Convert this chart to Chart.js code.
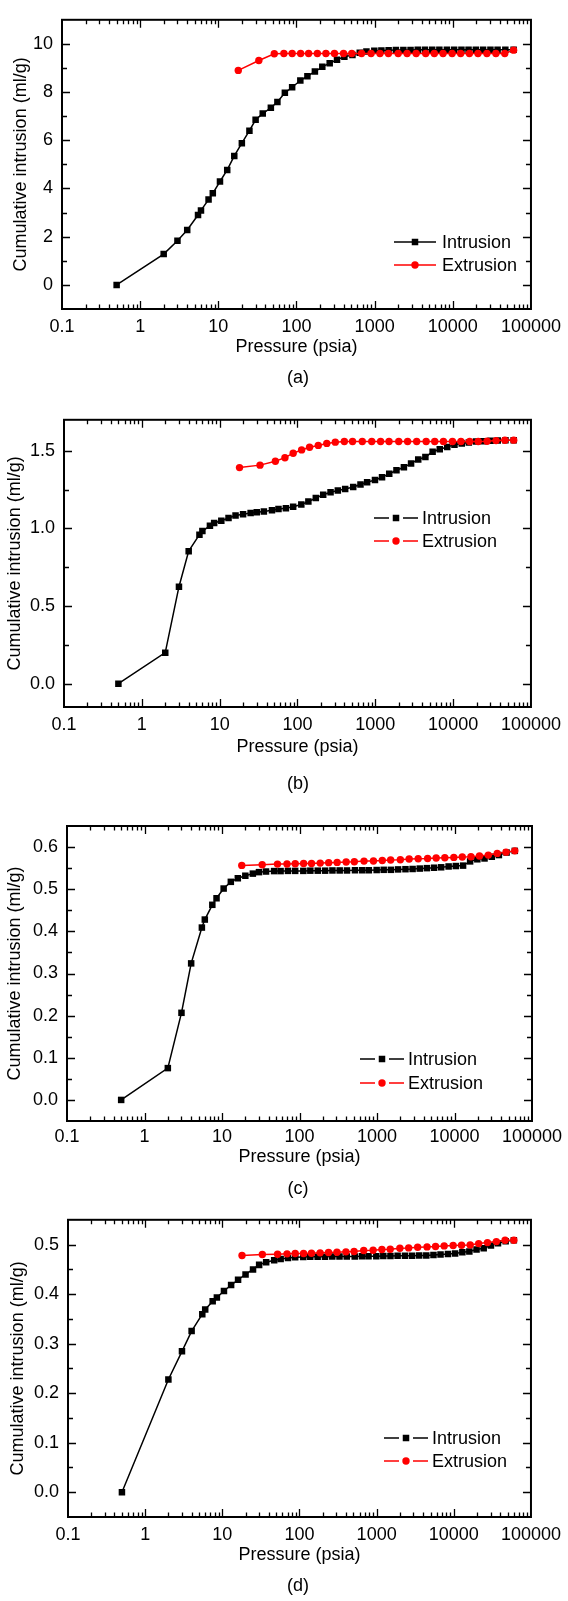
<!DOCTYPE html>
<html><head><meta charset="utf-8">
<script src="https://cdn.jsdelivr.net/npm/chart.js@4.4.1/dist/chart.umd.min.js"></script>
<style>
html,body{margin:0;padding:0;background:#fff;}
body{width:568px;height:1601px;position:relative;overflow:hidden;font-family:"Liberation Sans",Arial,sans-serif;}
.box{position:absolute;left:0;width:568px;}
.lab{position:absolute;font-size:18px;line-height:20px;transform:translate(-50%,-50%);color:#000;white-space:nowrap;}
</style></head><body>
<div class="box" style="top:0;height:400px"><canvas id="ca" width="568" height="400"></canvas></div>
<div class="box" style="top:400px;height:400px"><canvas id="cb" width="568" height="400"></canvas></div>
<div class="box" style="top:800px;height:400px"><canvas id="cc" width="568" height="400"></canvas></div>
<div class="box" style="top:1200px;height:401px"><canvas id="cd" width="568" height="401"></canvas></div>
<div class="lab" style="left:298px;top:377px">(a)</div>
<div class="lab" style="left:298px;top:783px">(b)</div>
<div class="lab" style="left:298px;top:1188px">(c)</div>
<div class="lab" style="left:298px;top:1585px">(d)</div>
<script>
const intrusionPressure = [0.5, 2, 3, 4, 5.5, 6, 7.5, 8.5, 10.5, 13, 16, 20, 25, 30, 37, 47, 57, 71, 88, 112, 138, 172, 214, 266, 330, 410, 520, 645, 785, 990, 1220, 1510, 1870, 2330, 2880, 3560, 4400, 5450, 6730, 8400, 10400, 12900, 15900, 19700, 24400, 30300, 37400, 47000, 60000];
const extrusionPressure = [18, 33, 52, 69, 88, 113, 143, 185, 238, 306, 400, 510, 680, 900, 1170, 1500, 2000, 2600, 3400, 4500, 5800, 7500, 9800, 12600, 16300, 21000, 27300, 35600, 46200, 60000];

const intrusionA = [0, 1.28, 1.83, 2.28, 2.9, 3.09, 3.54, 3.8, 4.29, 4.77, 5.35, 5.88, 6.4, 6.85, 7.11, 7.35, 7.59, 7.97, 8.2, 8.48, 8.66, 8.85, 9.05, 9.2, 9.34, 9.47, 9.54, 9.63, 9.68, 9.72, 9.73, 9.74, 9.75, 9.75, 9.75, 9.76, 9.76, 9.76, 9.76, 9.76, 9.76, 9.76, 9.76, 9.76, 9.76, 9.76, 9.76, 9.76, 9.76];
const extrusionA = [8.9, 9.31, 9.59, 9.6, 9.6, 9.6, 9.6, 9.6, 9.6, 9.6, 9.6, 9.6, 9.6, 9.6, 9.6, 9.6, 9.6, 9.6, 9.6, 9.6, 9.6, 9.6, 9.6, 9.6, 9.6, 9.6, 9.6, 9.6, 9.6, 9.74];

const intrusionB = [0, 0.2, 0.625, 0.854, 0.96, 0.983, 1.017, 1.035, 1.05, 1.067, 1.083, 1.092, 1.1, 1.104, 1.11, 1.117, 1.125, 1.13, 1.14, 1.154, 1.173, 1.196, 1.217, 1.233, 1.244, 1.254, 1.267, 1.283, 1.298, 1.3125, 1.33, 1.352, 1.375, 1.394, 1.419, 1.444, 1.46, 1.494, 1.51, 1.525, 1.54, 1.548, 1.554, 1.56, 1.5625, 1.565, 1.567, 1.569, 1.569];
const extrusionB = [1.392, 1.408, 1.433, 1.456, 1.485, 1.506, 1.523, 1.535, 1.548, 1.556, 1.56, 1.56, 1.56, 1.56, 1.56, 1.56, 1.56, 1.56, 1.56, 1.56, 1.56, 1.56, 1.56, 1.56, 1.56, 1.56, 1.562, 1.566, 1.568, 1.569];

const intrusionC = [0, 0.0755, 0.2067, 0.324, 0.409, 0.428, 0.463, 0.4785, 0.5016, 0.5175, 0.526, 0.532, 0.537, 0.5405, 0.542, 0.543, 0.543, 0.5435, 0.5435, 0.5435, 0.544, 0.544, 0.544, 0.5445, 0.5445, 0.5445, 0.545, 0.545, 0.545, 0.5455, 0.546, 0.546, 0.547, 0.5475, 0.548, 0.549, 0.55, 0.551, 0.552, 0.554, 0.555, 0.556, 0.566, 0.571, 0.573, 0.577, 0.581, 0.587, 0.591];
const extrusionC = [0.5565, 0.558, 0.5596, 0.56, 0.5604, 0.561, 0.561, 0.562, 0.563, 0.5636, 0.5644, 0.565, 0.5667, 0.567, 0.568, 0.5695, 0.57, 0.5716, 0.5724, 0.573, 0.574, 0.5747, 0.5755, 0.5763, 0.577, 0.5787, 0.581, 0.585, 0.588, 0.591];

const intrusionD = [0, 0.2276, 0.2845, 0.3253, 0.3594, 0.3688, 0.3855, 0.393, 0.4063, 0.4183, 0.429, 0.4398, 0.4498, 0.459, 0.4645, 0.4685, 0.471, 0.473, 0.4746, 0.475, 0.4752, 0.4754, 0.4756, 0.4758, 0.476, 0.476, 0.476, 0.4762, 0.4764, 0.4766, 0.4768, 0.477, 0.4772, 0.4774, 0.4776, 0.4778, 0.478, 0.479, 0.48, 0.481, 0.482, 0.4846, 0.486, 0.49, 0.4926, 0.498, 0.5027, 0.5067, 0.5087];
const extrusionD = [0.4779, 0.48, 0.4806, 0.4813, 0.482, 0.482, 0.4826, 0.4833, 0.484, 0.4846, 0.4853, 0.486, 0.488, 0.4886, 0.49, 0.4906, 0.4926, 0.4933, 0.4946, 0.4953, 0.496, 0.4973, 0.498, 0.4987, 0.4993, 0.502, 0.504, 0.506, 0.5087, 0.5087];

const xTickLabels = [0.1, 1, 10, 100, 1000, 10000, 100000];
const yTicksA = [0, 2, 4, 6, 8, 10];
const yTicksB = [0, 0.5, 1.0, 1.5];
const yTicksC = [0, 0.1, 0.2, 0.3, 0.4, 0.5, 0.6];
const yTicksD = [0, 0.1, 0.2, 0.3, 0.4, 0.5];

const seriesNames = ['Intrusion', 'Extrusion'];
const FONT = '"Liberation Sans", Arial, sans-serif';

function pts(xs, ys) { return xs.map((x, i) => ({x: x, y: ys[i]})); }

const framePlugin = {
  id: 'frame',
  afterDraw(chart, args, opts) {
    const ctx = chart.ctx, a = chart.chartArea;
    const xs = chart.scales.x, ys = chart.scales.y;
    ctx.save();
    ctx.strokeStyle = '#000';
    // ticks
    ctx.lineWidth = 1.3;
    ctx.beginPath();
    for (let k = -1; k <= 4; k++) {
      for (let m = 1; m <= 9; m++) {
        const v = m * Math.pow(10, k);
        if (k === -1 && m === 1) continue;
        const px = Math.round(xs.getPixelForValue(v)) + 0.5;
        const len = (m === 1) ? 8 : 4.5;
        ctx.moveTo(px, a.bottom); ctx.lineTo(px, a.bottom - len);
        ctx.moveTo(px, a.top); ctx.lineTo(px, a.top + len);
      }
    }
    const c = opts.cfg;
    const nMin = Math.ceil((c.yMin) / c.minor - 1e-9);
    const nMax = Math.floor((c.yMax) / c.minor + 1e-9);
    for (let n = nMin; n <= nMax; n++) {
      const v = n * c.minor;
      const py = ys.getPixelForValue(v);
      if (py > a.bottom - 2 || py < a.top + 2) continue;
      const isMajor = c.yTicks.some(t => Math.abs(t - v) < 1e-9);
      const len = isMajor ? 8 : 5;
      const yy = Math.round(py) + 0.5;
      ctx.moveTo(a.left, yy); ctx.lineTo(a.left + len, yy);
      ctx.moveTo(a.right, yy); ctx.lineTo(a.right - len, yy);
    }
    ctx.stroke();
    // frame
    ctx.lineWidth = 2;
    ctx.strokeRect(a.left, a.top, a.right - a.left, a.bottom - a.top);
    // legend
    const L = c.legend;
    const xc = (L.x1 + L.x2) / 2;
    const items = [
      {label: seriesNames[0], color: '#000', style: 'rect', r: 4.6, y: L.y1},
      {label: seriesNames[1], color: '#ff0000', style: 'circle', r: 3.7, y: L.y2}
    ];
    items.forEach(it => {
      ctx.strokeStyle = it.color; ctx.fillStyle = it.color; ctx.lineWidth = 1.5;
      ctx.beginPath();
      if (L.gapped) {
        ctx.moveTo(L.x1, it.y); ctx.lineTo(xc - 7, it.y);
        ctx.moveTo(xc + 7, it.y); ctx.lineTo(L.x2, it.y);
      } else {
        ctx.moveTo(L.x1, it.y); ctx.lineTo(L.x2, it.y);
      }
      ctx.stroke();
      Chart.helpers.drawPoint(ctx, {pointStyle: it.style, rotation: 0, radius: it.r, borderWidth: 0}, xc, it.y);
      ctx.fillStyle = '#000';
      ctx.font = '18px ' + FONT;
      ctx.textBaseline = 'middle';
      ctx.textAlign = 'left';
      ctx.fillText(it.label, L.textX, it.y + 1);
    });
    ctx.restore();
  }
};

function makeChart(id, c) {
  return new Chart(document.getElementById(id), {
    type: 'line',
    data: {
      datasets: [
        {label: seriesNames[0], data: pts(intrusionPressure, c.intr), borderColor: '#000', backgroundColor: '#000',
         borderWidth: 1.5, pointStyle: 'rect', pointRadius: 4.6, pointBorderWidth: 0, tension: 0, order: 2},
        {label: seriesNames[1], data: pts(extrusionPressure, c.extr), borderColor: '#ff0000', backgroundColor: '#ff0000',
         borderWidth: 1.5, pointStyle: 'circle', pointRadius: 3.7, pointBorderWidth: 0, tension: 0, order: 1}
      ]
    },
    options: {
      responsive: false, animation: false,
      layout: {padding: {left: 0, top: c.padTop, right: c.padRight, bottom: c.padBottom}},
      plugins: {legend: {display: false}, tooltip: {enabled: false}, frame: {cfg: c}},
      scales: {
        x: {
          type: 'logarithmic', min: 0.1, max: 100000, position: 'bottom',
          grid: {display: false, drawTicks: false}, border: {display: false},
          afterBuildTicks: s => { s.ticks = xTickLabels.map(v => ({value: v})); },
          afterFit: s => { s.height = c.xHeight; },
          ticks: {padding: c.xPad, color: '#000', font: {family: FONT, size: 18}, maxRotation: 0, autoSkip: false,
                  callback: v => String(Number(v))},
          title: {display: true, text: 'Pressure (psia)', color: '#000', font: {family: FONT, size: 18}, padding: {top: 0, bottom: 0}}
        },
        y: {
          type: 'linear', min: c.yMin, max: c.yMax,
          grid: {display: false, drawTicks: false}, border: {display: false},
          afterBuildTicks: s => { s.ticks = c.yTicks.map(v => ({value: v})); },
          afterFit: s => { s.width = c.yWidth; },
          ticks: {padding: 9, color: '#000', font: {family: FONT, size: 18}, callback: v => Number(v).toFixed(c.dec)},
          title: {display: true, text: 'Cumulative intrusion (ml/g)', color: '#000', font: {family: FONT, size: 18}, padding: {top: c.yTitlePad, bottom: 0}}
        }
      }
    },
    plugins: [framePlugin]
  });
}

makeChart('ca', {intr: intrusionA, extr: extrusionA, yMin: -1, yMax: 11, yTicks: yTicksA, minor: 1, dec: 0,
  padTop: 9, padRight: 32, padBottom: 42, xHeight: 49, xPad: 7, yWidth: 62, yTitlePad: 10,
  legend: {x1: 394, x2: 436, y1: 242, y2: 265, textX: 442, gapped: false}});
makeChart('cb', {intr: intrusionB, extr: extrusionB, yMin: -0.15, yMax: 1.7, yTicks: yTicksB, minor: 0.25, dec: 1,
  padTop: 13, padRight: 32, padBottom: 42, xHeight: 51, xPad: 7, yWidth: 64, yTitlePad: 4,
  legend: {x1: 374, x2: 418, y1: 118, y2: 141, textX: 422, gapped: true}});
makeChart('cc', {intr: intrusionC, extr: extrusionC, yMin: -0.05, yMax: 0.65, yTicks: yTicksC, minor: 0.05, dec: 1,
  padTop: 26, padRight: 36, padBottom: 32, xHeight: 47, xPad: 5, yWidth: 67, yTitlePad: 4,
  legend: {x1: 360, x2: 404, y1: 259, y2: 283, textX: 408, gapped: true}});
makeChart('cd', {intr: intrusionD, extr: extrusionD, yMin: -0.05, yMax: 0.55, yTicks: yTicksD, minor: 0.05, dec: 1,
  padTop: 18, padRight: 37, padBottom: 35, xHeight: 49, xPad: 7, yWidth: 68, yTitlePad: 7,
  legend: {x1: 384, x2: 428, y1: 238, y2: 261, textX: 432, gapped: true}});
</script>
</body></html>
